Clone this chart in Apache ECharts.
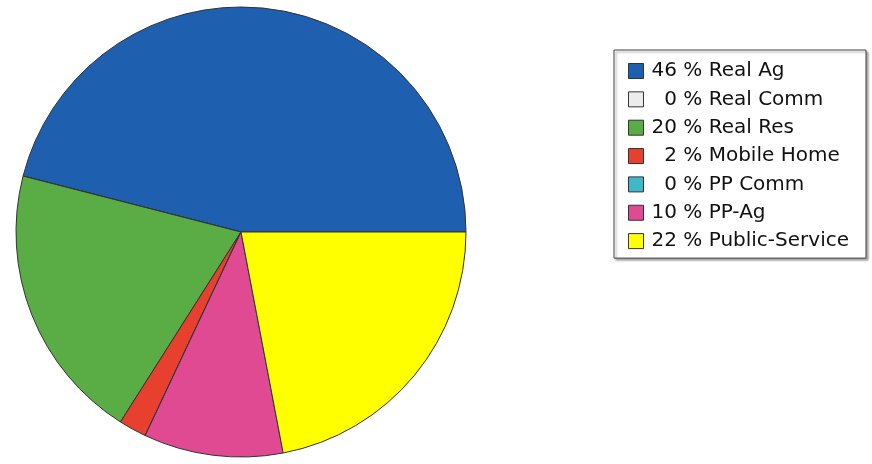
<!DOCTYPE html>
<html>
<head>
<meta charset="utf-8">
<script src="https://cdn.jsdelivr.net/npm/echarts@6/dist/echarts.min.js"></script>
<style>
  html, body { margin: 0; padding: 0; background: #fff; }
  #chart { width: 872px; height: 464px; }
</style>
</head>
<body>
<div id="chart"></div>
<script>
// Share of total by property class (percent)
const categories = ['Real Ag', 'Real Comm', 'Real Res', 'Mobile Home', 'PP Comm', 'PP-Ag', 'Public-Service'];
const percents = [46, 0, 20, 2, 0, 10, 22];
const colors = ['#1f5fb0', '#ececec', '#5aac44', '#e8402e', '#3fb8c8', '#e04a92', '#ffff00'];

const chart = echarts.init(document.getElementById('chart'));

const data = categories.map((name, i) => ({
  name: name,
  value: percents[i],
  itemStyle: { color: colors[i] }
}));

// two-digit field, padded with a figure space so the numbers line up on the right
function pct(v) {
  const s = String(v);
  return s.length < 2 ? '\u2007' + s : s;
}

chart.setOption({
  backgroundColor: '#ffffff',
  animation: false,
  legend: {
    orient: 'vertical',
    left: 614,
    top: 50,
    padding: [11, 17, 7, 14],
    itemGap: 8.35,
    itemWidth: 15,
    itemHeight: 15,
    backgroundColor: '#ffffff',
    borderColor: '#444',
    borderWidth: 1,
    shadowColor: 'rgba(0,0,0,0.35)',
    shadowBlur: 2,
    shadowOffsetX: 2,
    shadowOffsetY: 2,
    icon: 'rect',
    itemStyle: { borderColor: '#333', borderWidth: 1 },
    data: categories,
    formatter: function (name) {
      return pct(percents[categories.indexOf(name)]) + ' % ' + name;
    },
    textStyle: {
      fontFamily: 'DejaVu Sans',
      fontSize: 20,
      color: '#111',
      lineHeight: 20,
      padding: [0, 0, 0, 3]
    }
  },
  series: [{
    type: 'pie',
    center: [241, 232],
    radius: 225,
    startAngle: 0,
    clockwise: false,
    label: { show: false },
    labelLine: { show: false },
    emphasis: { disabled: true },
    itemStyle: { borderColor: '#333', borderWidth: 1 },
    data: data
  }]
});
</script>
</body>
</html>
